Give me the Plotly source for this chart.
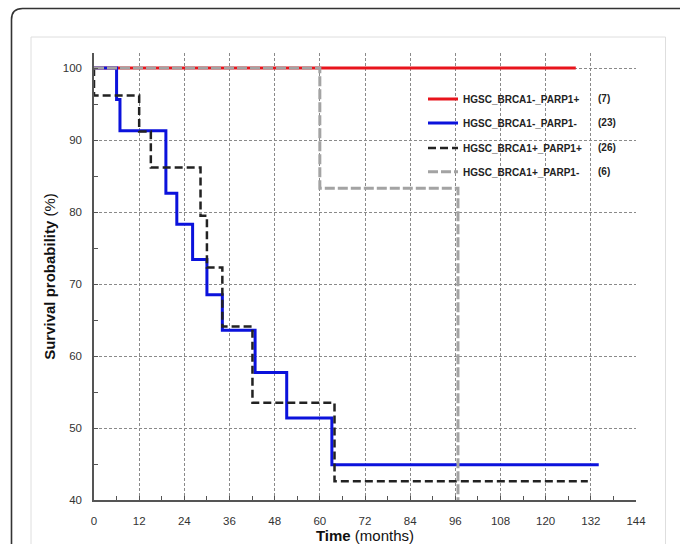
import plotly.graph_objects as go

# ---- data ----
red_name = "HGSC_BRCA1-_PARP1+"
red_n = "(7)"
red_t = [0, 128.0]
red_s = [100, 100]

blue_name = "HGSC_BRCA1-_PARP1-"
blue_n = "(23)"
blue_t = [0, 6.0, 6.9, 19.1, 22.0, 26.2, 30.0, 34.1, 42.8, 51.2, 63.2, 134.1]
blue_s = [100, 95.65, 91.3, 82.6, 78.3, 73.4, 68.5, 63.6, 57.7, 51.4, 44.9, 44.9]

black_name = "HGSC_BRCA1+_PARP1+"
black_n = "(26)"
black_t = [0, 0, 12.0, 15.1, 28.3, 30.0, 34.1, 42.1, 63.9, 131.2]
black_s = [100, 96.2, 91.2, 86.2, 79.5, 72.3, 64.1, 53.5, 42.6, 42.6]

gray_name = "HGSC_BRCA1+_PARP1-"
gray_n = "(6)"
gray_t = [0, 60.0, 96.7]
gray_s = [100, 83.3, 0]

x_ticks = list(range(0, 145, 12))
y_ticks = list(range(40, 101, 10))

# ---- layout geometry (pixels) ----
W, H = 680, 544
ML, MR, MT, MB = 94, 44, 53, 43.5
PW, PH = W - ML - MR, H - MT - MB

def px(x):
    return (x - ML) / PW

def py(y):
    return (H - MB - y) / PH

fig = go.Figure()

series = [
    (red_name, red_t, red_s, dict(color="#e8141c", width=3), "legend"),
    (blue_name, blue_t, blue_s, dict(color="#0b12dc", width=3), "legend2"),
    (black_name, black_t, black_s, dict(color="#222222", width=2.5, dash="8px,4px"), "legend3"),
    (gray_name, gray_t, gray_s, dict(color="#a3a3a3", width=3, dash="10px,3px"), "legend4"),
]
for name, t, s, line, lg in series:
    fig.add_trace(go.Scatter(x=t, y=s, mode="lines", name="<b>%s</b>" % name, line=line,
                             line_shape="hv", legend=lg))

# legends positioned individually (one per row)
legend_rows_px = [99, 123, 148, 172]
legend_font = dict(family="Liberation Sans, Arial, sans-serif", size=10, color="#222")
legend_x = px(423)
for i, lg in enumerate(["legend", "legend2", "legend3", "legend4"]):
    fig.update_layout({lg: dict(x=legend_x, xanchor="left", y=py(legend_rows_px[i]),
                                yanchor="middle", bgcolor="rgba(0,0,0,0)",
                                borderwidth=0, font=legend_font, tracegroupgap=0)})

# counts column
counts = [red_n, blue_n, black_n, gray_n]
for i, c in enumerate(counts):
    fig.add_annotation(text="<b>%s</b>" % c, x=px(596), y=py(legend_rows_px[i]),
                       xref="paper", yref="paper", xanchor="left", yanchor="middle",
                       showarrow=False, font=legend_font)

# frames
ol, ot, orr, ob, r = 11.5, 8.5, 700, 570, 11
path = (f"M {px(ol)},{py(ob)} L {px(ol)},{py(ot + r)} "
        f"Q {px(ol)},{py(ot)} {px(ol + r)},{py(ot)} L {px(orr)},{py(ot)}")
fig.add_shape(type="path", path=path, xref="paper", yref="paper",
              line=dict(color="#333333", width=1.6), layer="below")
fig.add_shape(type="rect", xref="paper", yref="paper", x0=px(31), x1=px(665.5),
              y0=py(37), y1=py(570), line=dict(color="#dedede", width=1), layer="below")

tickfont = dict(family="Liberation Sans, Arial, sans-serif", size=11.5, color="#333")
title_font = dict(family="Liberation Sans, Arial, sans-serif", size=15, color="#111")
fig.update_xaxes(range=[0, 144], tickvals=x_ticks, ticktext=[str(v) for v in x_ticks],
                 showline=True, linecolor="#555", linewidth=1.5, automargin=False,
                 ticks="inside", ticklen=4, tickcolor="#555",
                 minor=dict(ticks="inside", dtick=6, ticklen=4, tickcolor="#555", showgrid=False),
                 showgrid=True, gridcolor="#8a8a8a", gridwidth=1, griddash="3px,2px",
                 zeroline=False, tickfont=tickfont, ticklabelstandoff=9,
                 title=dict(text="<b>Time</b> (months)", standoff=12, font=title_font))
fig.update_yaxes(range=[40, 102.1], tickvals=y_ticks, ticktext=[str(v) for v in y_ticks],
                 showline=True, linecolor="#555", linewidth=1.5, automargin=False,
                 ticks="inside", ticklen=4, tickcolor="#555",
                 minor=dict(ticks="inside", dtick=5, ticklen=4, tickcolor="#555", showgrid=False),
                 showgrid=True, gridcolor="#8a8a8a", gridwidth=1, griddash="3px,2px",
                 zeroline=False, tickfont=tickfont, ticklabelstandoff=8,
                 title=dict(text="<b>Survival probability</b> (%)", standoff=4, font=title_font))

fig.update_layout(width=W, height=H, margin=dict(l=ML, r=MR, t=MT, b=MB, autoexpand=False),
                  paper_bgcolor="white", plot_bgcolor="white", showlegend=True)

fig.write_html("out.html")
